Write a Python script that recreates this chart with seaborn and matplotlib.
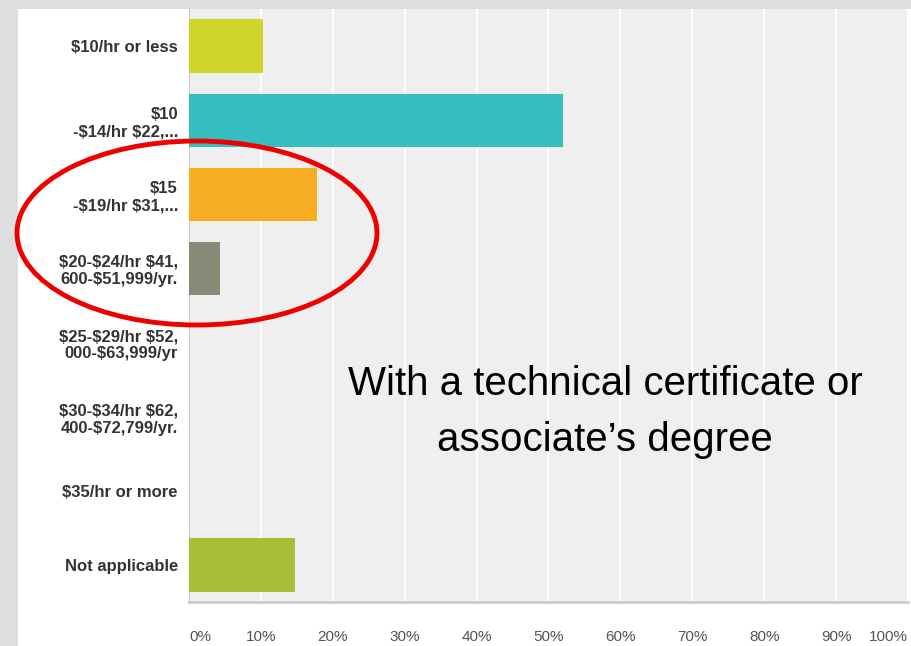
import numpy as np
import pandas as pd
import matplotlib
matplotlib.use("Agg")
import matplotlib.pyplot as plt
import seaborn as sns
from matplotlib.patches import Ellipse, Rectangle

# survey answers, percent of respondents
categories = [
    "$10/hr or less",
    "$10\n-$14/hr $22,...",
    "$15\n-$19/hr $31,...",
    "$20-$24/hr $41,\n600-$51,999/yr.",
    "$25-$29/hr $52,\n000-$63,999/yr",
    "$30-$34/hr $62,\n400-$72,799/yr.",
    "$35/hr or more",
    "Not applicable",
]
percents = [10.3, 52.0, 17.8, 4.3, 0.0, 0.0, 0.0, 14.7]
bar_colors = ["#d0d52a", "#34bec0", "#f7ae22", "#8a8a78",
              "#4a7fb0", "#c0504d", "#8064a2", "#a9bd38"]
xtick_labels = ["0%", "10%", "20%", "30%", "40%", "50%", "60%", "70%", "80%", "90%", "100%"]

df = pd.DataFrame({"answer": categories, "pct": percents})

sns.set_style("white")
plt.rcParams["font.family"] = ["Liberation Sans Narrow", "Liberation Sans", "DejaVu Sans"]
plt.rcParams["text.parse_math"] = False

fig = plt.figure(figsize=(9.12, 6.46), dpi=100, facecolor="#dedede")
fig.add_artist(Rectangle((18 / 912, 0), 1 - 18 / 912, 1 - 9 / 646,
                         transform=fig.transFigure, facecolor="white",
                         edgecolor="none", zorder=0))

ax = fig.add_axes([189 / 912, 44 / 646, 719 / 912, 593 / 646])
ax.set_facecolor("#efefef")

sns.barplot(data=df, y="answer", x="pct", hue="answer", palette=bar_colors,
            orient="h", width=0.72, legend=False, ax=ax, zorder=3,
            saturation=1, edgecolor="none")

ax.set_xlim(0, 100)
ax.set_xticks(np.arange(0, 101, 10))
ax.set_xticklabels(xtick_labels, fontsize=11, color="#555555")
ax.grid(axis="x", color="white", linewidth=1.4, zorder=1)
ax.set_axisbelow(True)
ax.set_xlabel("")
ax.set_ylabel("")
ax.tick_params(axis="both", length=0)
ax.tick_params(axis="x", pad=20)
ax.tick_params(axis="y", pad=8)
for lab in ax.get_yticklabels():
    lab.set_fontweight("bold")
    lab.set_fontsize(12)
    lab.set_color("#333333")
    lab.set_multialignment("right")
    lab.set_linespacing(1.2)
xl = ax.get_xticklabels()
xl[0].set_ha("left")
xl[-1].set_ha("right")

for s in ["top", "right"]:
    ax.spines[s].set_visible(False)
ax.spines["left"].set_color("#cccccc")
ax.spines["bottom"].set_color("#cccccc")
ax.spines["bottom"].set_linewidth(2)

fig.text(605 / 912, 1 - 384 / 646, "With a technical certificate or",
         ha="center", va="center", fontsize=29, color="black")
fig.text(605 / 912, 1 - 440 / 646, "associate\u2019s degree",
         ha="center", va="center", fontsize=29, color="black")

fig.add_artist(Ellipse((197 / 912, 1 - 233 / 646), 360 / 912, 184 / 646,
                       transform=fig.transFigure, fill=False,
                       edgecolor="#ee0000", linewidth=3.5, zorder=10))

fig.savefig("out.png", dpi=100, facecolor=fig.get_facecolor())
